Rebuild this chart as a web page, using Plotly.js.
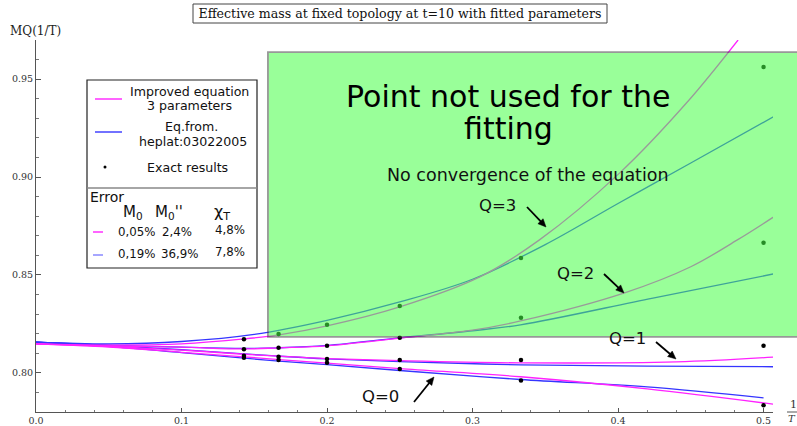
<!DOCTYPE html>
<html>
<head>
<meta charset="utf-8">
<script src="https://cdn.plot.ly/plotly-3.0.1.min.js"></script>
<style>html,body{margin:0;padding:0;background:#fff;}#chart{width:797px;height:426px;}</style>
</head>
<body>
<div id="chart"></div>
<script>
// ---------- data ----------
const invT = [0.1429, 0.1667, 0.2, 0.25, 0.3333, 0.5];
const exactQ0 = [0.8077, 0.8066, 0.8051, 0.8020, 0.7961, 0.7835];
const exactQ1 = [0.8087, 0.8082, 0.8071, 0.8066, 0.8066, 0.8139];
const exactQ2 = [0.8121, 0.8128, 0.8138, 0.8179, 0.8281, 0.8665];
const exactQ3 = [0.8172, 0.8199, 0.8245, 0.8342, 0.8587, 0.9562];

// improved equation, 3 parameters (magenta)
const impQ0x = [0, 0.05, 0.1, 0.143, 0.167, 0.2, 0.25, 0.333, 0.42, 0.51];
const impQ0y = [0.8148, 0.8132, 0.8105, 0.8082, 0.8068, 0.8050, 0.8022, 0.7980, 0.7918, 0.7837];
const impQ1x = [0, 0.05, 0.1, 0.143, 0.167, 0.2, 0.25, 0.333, 0.44, 0.51];
const impQ1y = [0.8148, 0.8135, 0.8116, 0.8095, 0.8085, 0.8073, 0.8062, 0.8051, 0.8056, 0.8082];
const impQ2x = [0, 0.05, 0.1, 0.143, 0.167, 0.2, 0.25, 0.3, 0.333, 0.405, 0.45, 0.482, 0.51];
const impQ2y = [0.8148, 0.8137, 0.8131, 0.8122, 0.8128, 0.8138, 0.8177, 0.8218, 0.8265, 0.8410, 0.8542, 0.8679, 0.8811];
const impQ3x = [0, 0.05, 0.1, 0.143, 0.167, 0.2, 0.25, 0.305, 0.346, 0.401, 0.447, 0.4825];
const impQ3y = [0.8148, 0.8142, 0.8148, 0.8173, 0.8194, 0.8240, 0.8337, 0.8490, 0.8679, 0.9020, 0.9378, 0.9700];

// equation from hep-lat/0302005 (blue)
const hepQ0x = [0, 0.05, 0.1, 0.143, 0.167, 0.2, 0.25, 0.333, 0.42, 0.5];
const hepQ0y = [0.8157, 0.8135, 0.8103, 0.8075, 0.8060, 0.8042, 0.8012, 0.7966, 0.7928, 0.7872];
const hepQ1x = [0, 0.05, 0.1, 0.143, 0.167, 0.2, 0.25, 0.333, 0.42, 0.51];
const hepQ1y = [0.8157, 0.8140, 0.8118, 0.8097, 0.8085, 0.8071, 0.8057, 0.8041, 0.8034, 0.8031];
const hepQ2x = [0, 0.05, 0.1, 0.143, 0.167, 0.2, 0.25, 0.3, 0.333, 0.424, 0.51];
const hepQ2y = [0.8157, 0.8142, 0.8131, 0.8125, 0.8128, 0.8140, 0.8179, 0.8215, 0.8245, 0.8382, 0.8510];
const hepQ3x = [0, 0.05, 0.1, 0.15, 0.2, 0.25, 0.3, 0.35, 0.4, 0.45, 0.51];
const hepQ3y = [0.8157, 0.8148, 0.8160, 0.8196, 0.8268, 0.8362, 0.8478, 0.8655, 0.8865, 0.9072, 0.9321];

const legendLabels = ["Improved equation", "3 parameters", "Eq.from.", "heplat:03022005", "Exact results"];
const errHeaders = ["M<sub>0</sub>", "M<sub>0</sub>''", "χ<sub>T</sub>"];
const errImproved = ["0,05%", "2,4%", "4,8%"];
const errHep = ["0,19%", "36,9%", "7,8%"];
const qLabels = ["Q=0", "Q=1", "Q=2", "Q=3"];

// ---------- layout helpers ----------
const L = 36, R = 773, T = 40, B = 412;
const xRange = [0, 0.5065], yRange = [0.78, 0.97];
function px(x) { return (x - L) / (R - L); }
function py(y) { return (B - y) / (B - T); }
function dx(v) { return (v - xRange[0]) / (xRange[1] - xRange[0]); }
function dy(v) { return (v - yRange[0]) / (yRange[1] - yRange[0]); }

const MAG = '#ff22ff', BLU = '#3535ff';
const traces = [];
function curve(x, y, color) {
  traces.push({x: x, y: y, type: 'scatter', mode: 'lines', hoverinfo: 'skip',
    line: {color: color, width: 1.3, shape: 'spline', smoothing: 1}});
}
curve(hepQ0x, hepQ0y, BLU); curve(impQ0x, impQ0y, MAG);
curve(hepQ1x, hepQ1y, BLU); curve(impQ1x, impQ1y, MAG);
curve(hepQ2x, hepQ2y, BLU); curve(impQ2x, impQ2y, MAG);
curve(hepQ3x, hepQ3y, BLU); curve(impQ3x, impQ3y, MAG);
[exactQ0, exactQ1, exactQ2, exactQ3].forEach(function (ys) {
  traces.push({x: invT, y: ys, type: 'scatter', mode: 'markers', hoverinfo: 'skip',
    marker: {color: '#000', size: 4.5}});
});

const SANS = 'DejaVu Sans, sans-serif', SERIF = 'DejaVu Serif, serif';
const ann = [];
function txt(text, xp, yp, size, opts) {
  const a = Object.assign({text: text, x: px(xp), y: py(yp), xref: 'paper', yref: 'paper',
    showarrow: false, xanchor: 'center', yanchor: 'middle',
    font: {family: SANS, size: size, color: '#111'}}, opts || {});
  ann.push(a);
}

const shapes = [
  // green "not used" region (drawn above the curves, semi-transparent)
  {type: 'rect', xref: 'paper', yref: 'paper', layer: 'above',
   x0: dx(0.1594), x1: px(800), y0: dy(0.8184), y1: dy(0.9638),
   fillcolor: '#46ff46', opacity: 0.55, line: {color: '#444', width: 1.8}}
];
// arrow drawn as a line plus a filled head (pixel geometry converted to paper units)
function arrow(hx, hy, ax, ay) {
  const tx = hx + ax, ty = hy + ay;
  const len = Math.hypot(ax, ay), ux = -ax / len, uy = -ay / len;
  const hl = 8, hw = 3.6;
  const bx = hx - ux * hl, by = hy - uy * hl;
  shapes.push({type: 'line', xref: 'paper', yref: 'paper', layer: 'above',
    x0: px(tx), y0: py(ty), x1: px(bx + ux * 1), y1: py(by + uy * 1), line: {color: '#000', width: 1.8}});
  const p1x = bx - uy * hw, p1y = by + ux * hw, p2x = bx + uy * hw, p2y = by - ux * hw;
  shapes.push({type: 'path', xref: 'paper', yref: 'paper', layer: 'above',
    path: 'M' + px(hx) + ',' + py(hy) + ' L' + px(p1x) + ',' + py(p1y) + ' L' + px(p2x) + ',' + py(p2y) + ' Z',
    fillcolor: '#000', line: {color: '#000', width: 0.5}});
}

// big annotations in the green area
txt("Point not used for the", 508, 96, 30, {font: {family: SANS, size: 30, color: '#000'}});
txt("fitting", 508, 128, 30, {font: {family: SANS, size: 30, color: '#000'}});
txt("No convergence of the equation", 528, 175, 17.5);
// Q labels and arrows
txt(qLabels[3], 497, 205, 16.5); arrow(546, 227, -19, -20);
txt(qLabels[2], 575, 273, 16.5); arrow(624, 293, -20, -19);
txt(qLabels[1], 627, 338, 16.5); arrow(676, 359, -20, -17);
txt(qLabels[0], 380, 396, 16.5); arrow(434, 377, -20, 25);

// legend box texts
txt(legendLabels[0], 189, 91.5, 12.6);
txt(legendLabels[1], 189, 106, 12.6);
txt(legendLabels[2], 191, 126.5, 12.6);
txt(legendLabels[3], 193, 141, 12.6);
txt(legendLabels[4], 187, 167, 12.6);
txt("Error", 88, 197, 14, {xanchor: 'left'});
txt(errHeaders[0], 133, 212, 15);
txt(errHeaders[1], 169, 212, 15);
txt(errHeaders[2], 222, 212, 16);
const colX = [136, 177, 230];
errImproved.forEach(function (s, i) { txt(s, colX[i], i === 2 ? 230 : 232, 11.8); });
errHep.forEach(function (s, i) { txt(s, colX[i] + (i === 1 ? 2 : 0), i === 2 ? 252 : 254, 11.8); });

// axis titles
txt("MQ(1/T)", 35, 31, 12, {font: {family: SERIF, size: 12, color: '#222'}});
txt("1", 793, 404, 11, {font: {family: SERIF, size: 11, color: '#333'}});
txt("<i>T</i>", 792, 418, 10, {font: {family: SERIF, size: 10, color: '#333'}});

shapes.push(
  // legend box
  {type: 'rect', xref: 'paper', yref: 'paper', layer: 'above',
   x0: px(87), x1: px(257), y0: py(268), y1: py(80),
   fillcolor: '#fff', line: {color: '#222', width: 1.2}},
  {type: 'line', xref: 'paper', yref: 'paper', layer: 'above',
   x0: px(87), x1: px(257), y0: py(188), y1: py(188), line: {color: '#888', width: 1.6}},
  {type: 'line', xref: 'paper', yref: 'paper', layer: 'above',
   x0: px(95), x1: px(122), y0: py(99), y1: py(99), line: {color: MAG, width: 1.4}},
  {type: 'line', xref: 'paper', yref: 'paper', layer: 'above',
   x0: px(95), x1: px(122), y0: py(132), y1: py(132), line: {color: BLU, width: 1.4}},
  {type: 'circle', xref: 'paper', yref: 'paper', layer: 'above',
   x0: px(103.5), x1: px(106.5), y0: py(168.5), y1: py(165.5),
   fillcolor: '#000', line: {color: '#000', width: 0}},
  {type: 'line', xref: 'paper', yref: 'paper', layer: 'above',
   x0: px(93), x1: px(103), y0: py(232), y1: py(232), line: {color: MAG, width: 1.4}},
  {type: 'line', xref: 'paper', yref: 'paper', layer: 'above',
   x0: px(93), x1: px(103), y0: py(255), y1: py(255), line: {color: '#8080ff', width: 1.4}},
  // title box
  {type: 'rect', xref: 'paper', yref: 'paper', layer: 'above',
   x0: px(193), x1: px(607), y0: py(23), y1: py(4),
   fillcolor: 'rgba(0,0,0,0)', line: {color: '#444', width: 1}},
  // fraction bar of 1/T
  {type: 'line', xref: 'paper', yref: 'paper', layer: 'above',
   x0: px(787), x1: px(797), y0: py(412), y1: py(412), line: {color: '#555', width: 1}}
);

const axisCommon = {showgrid: false, zeroline: false, showline: true, linecolor: '#555', linewidth: 1,
  ticks: 'inside', tickcolor: '#555', ticklen: 4.5, tickwidth: 1,
  tickfont: {family: SERIF, size: 9.5, color: '#333'}, fixedrange: true};

const layout = {
  width: 797, height: 426,
  margin: {l: L, r: 797 - R, t: T, b: 426 - B, pad: 0},
  paper_bgcolor: '#fff', plot_bgcolor: '#fff',
  showlegend: false,
  title: {text: "Effective mass at fixed topology at t=10 with fitted parameters",
    font: {family: SERIF, size: 12.6, color: '#111'},
    x: 400 / 797, xref: 'container', xanchor: 'center',
    y: 1 - 14 / 426, yref: 'container', yanchor: 'middle'},
  xaxis: Object.assign({}, axisCommon, {range: xRange, tick0: 0, dtick: 0.1, tickformat: '.1f',
    minor: {dtick: 0.02, ticks: 'inside', ticklen: 2.5, tickcolor: '#777', showgrid: false}}),
  yaxis: Object.assign({}, axisCommon, {range: yRange, tick0: 0.8, dtick: 0.05, tickformat: '.2f',
    minor: {dtick: 0.01, ticks: 'inside', ticklen: 2.5, tickcolor: '#777', showgrid: false}}),
  shapes: shapes,
  annotations: ann
};

Plotly.newPlot('chart', traces, layout, {staticPlot: true, displayModeBar: false});
</script>
</body>
</html>
